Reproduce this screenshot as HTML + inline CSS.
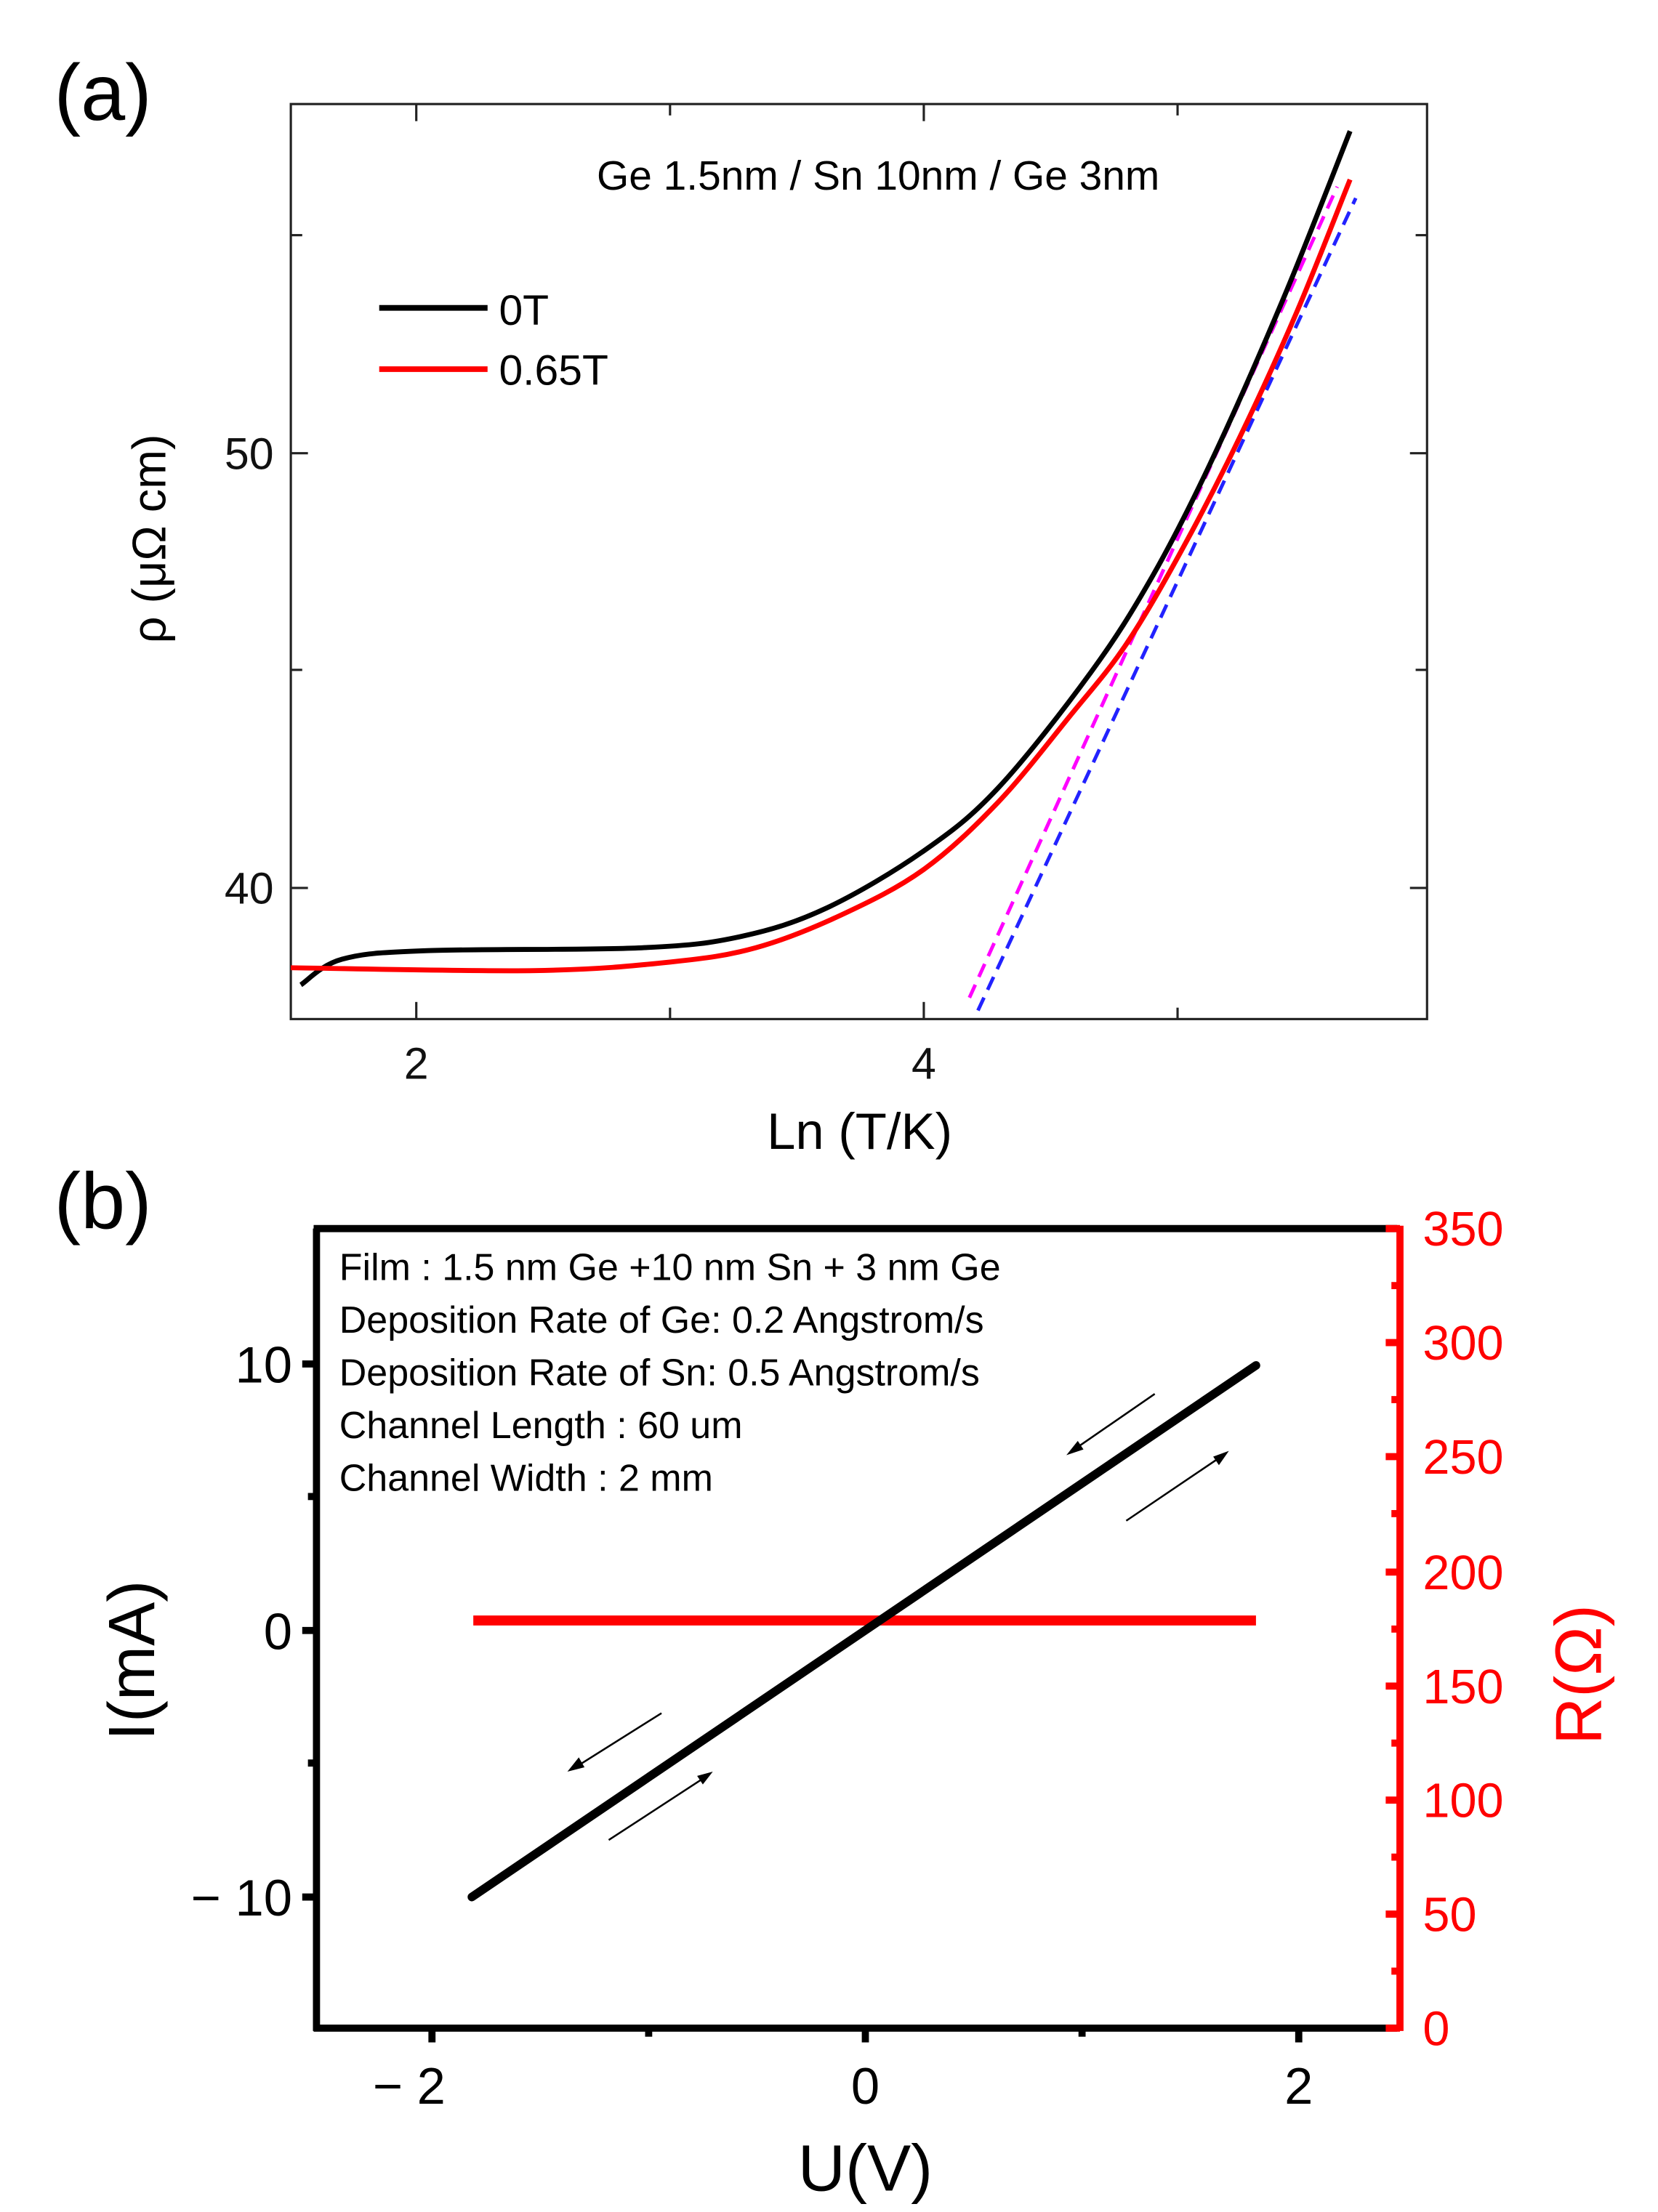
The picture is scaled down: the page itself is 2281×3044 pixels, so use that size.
<!DOCTYPE html>
<html><head><style>html,body{margin:0;padding:0;background:#fff}svg{display:block}</style></head>
<body>
<svg width="2281" height="3044" viewBox="0 0 1163 1552" preserveAspectRatio="none" xmlns="http://www.w3.org/2000/svg" font-family="Liberation Sans, sans-serif">
<rect width="1163" height="1552" fill="#fff"/>
<!-- Panel a -->
<text x="38" y="84" font-size="56">(a)</text>
<rect x="204" y="73" width="797" height="642" fill="none" stroke="#222" stroke-width="1.6"/>
<g stroke="#222" stroke-width="1.6">
<line x1="292" y1="715" x2="292" y2="703"/><line x1="470" y1="715" x2="470" y2="707"/><line x1="648" y1="715" x2="648" y2="703"/><line x1="826" y1="715" x2="826" y2="707"/>
<line x1="292" y1="73" x2="292" y2="85"/><line x1="470" y1="73" x2="470" y2="81"/><line x1="648" y1="73" x2="648" y2="85"/><line x1="826" y1="73" x2="826" y2="81"/>
<line x1="204" y1="318" x2="216" y2="318"/><line x1="204" y1="623" x2="216" y2="623"/><line x1="204" y1="470" x2="212" y2="470"/><line x1="204" y1="165" x2="212" y2="165"/>
<line x1="1001" y1="318" x2="989" y2="318"/><line x1="1001" y1="623" x2="989" y2="623"/><line x1="1001" y1="470" x2="993" y2="470"/><line x1="1001" y1="165" x2="993" y2="165"/>
</g>
<g font-size="31" fill="#111">
<text x="192" y="329" text-anchor="end">50</text>
<text x="192" y="634" text-anchor="end">40</text>
<text x="292" y="757" text-anchor="middle">2</text>
<text x="648" y="757" text-anchor="middle">4</text>
</g>
<text x="603" y="806" font-size="36" text-anchor="middle">Ln (T/K)</text>
<text transform="translate(116,378) rotate(-90)" font-size="33" text-anchor="middle">ρ (μΩ cm)</text>
<text x="616" y="133" font-size="29" text-anchor="middle">Ge 1.5nm / Sn 10nm / Ge 3nm</text>
<line x1="266" y1="216" x2="342" y2="216" stroke="#000" stroke-width="4"/>
<line x1="266" y1="259" x2="342" y2="259" stroke="#f00" stroke-width="4"/>
<text x="350" y="228" font-size="30">0T</text>
<text x="350" y="270" font-size="30">0.65T</text>
<line x1="680" y1="700" x2="938" y2="131" stroke="#f0f" stroke-width="2.5" stroke-dasharray="10,6"/>
<line x1="686" y1="709" x2="951" y2="139" stroke="#22f" stroke-width="2.5" stroke-dasharray="10,6"/>
<path id="cb" d="" fill="none" stroke="#000" stroke-width="3.5"/>
<path id="cr" d="" fill="none" stroke="#f00" stroke-width="3.5"/>
<!-- Panel b -->
<text x="38" y="862" font-size="56">(b)</text>
<g stroke="#000" stroke-width="5" fill="none">
<line x1="220" y1="862" x2="980" y2="862"/><line x1="222" y1="862" x2="222" y2="1425"/><line x1="220" y1="1423" x2="980" y2="1423"/>
<line x1="222" y1="957" x2="212" y2="957"/><line x1="222" y1="1144" x2="212" y2="1144"/><line x1="222" y1="1331" x2="212" y2="1331"/>
<line x1="222" y1="1050" x2="216" y2="1050"/><line x1="222" y1="1237" x2="216" y2="1237"/>
<line x1="303" y1="1423" x2="303" y2="1433"/><line x1="607" y1="1423" x2="607" y2="1433"/><line x1="911" y1="1423" x2="911" y2="1433"/>
<line x1="455" y1="1423" x2="455" y2="1429"/><line x1="759" y1="1423" x2="759" y2="1429"/>
</g>
<g stroke="#f00" stroke-width="5">
<line x1="982" y1="860" x2="982" y2="1425"/>
<line x1="982" y1="862" x2="972" y2="862"/><line x1="982" y1="942" x2="972" y2="942"/><line x1="982" y1="1022" x2="972" y2="1022"/><line x1="982" y1="1103" x2="972" y2="1103"/><line x1="982" y1="1183" x2="972" y2="1183"/><line x1="982" y1="1263" x2="972" y2="1263"/><line x1="982" y1="1343" x2="972" y2="1343"/><line x1="982" y1="1423" x2="972" y2="1423"/>
<line x1="982" y1="902" x2="976" y2="902"/><line x1="982" y1="982" x2="976" y2="982"/><line x1="982" y1="1062" x2="976" y2="1062"/><line x1="982" y1="1143" x2="976" y2="1143"/><line x1="982" y1="1223" x2="976" y2="1223"/><line x1="982" y1="1303" x2="976" y2="1303"/><line x1="982" y1="1383" x2="976" y2="1383"/>
</g>
<g font-size="34" fill="#f00">
<text x="998" y="874">350</text><text x="998" y="954">300</text><text x="998" y="1034">250</text><text x="998" y="1115">200</text><text x="998" y="1195">150</text><text x="998" y="1275">100</text><text x="998" y="1355">50</text><text x="998" y="1435">0</text>
</g>
<g font-size="36" fill="#000">
<text x="205" y="970" text-anchor="end">10</text>
<text x="205" y="1157" text-anchor="end">0</text>
<text x="205" y="1344" text-anchor="end">− 10</text>
<text x="287" y="1476" text-anchor="middle">− 2</text>
<text x="607" y="1476" text-anchor="middle">0</text>
<text x="911" y="1476" text-anchor="middle">2</text>
</g>
<text x="607" y="1537" font-size="46" text-anchor="middle">U(V)</text>
<text transform="translate(108,1165) rotate(-90)" font-size="46" text-anchor="middle">I(mA)</text>
<text transform="translate(1123,1175) rotate(-90)" font-size="46" text-anchor="middle" fill="#f00">R(Ω)</text>
<g font-size="26.5" fill="#000">
<text x="238" y="898">Film : 1.5 nm Ge +10 nm Sn + 3 nm Ge</text>
<text x="238" y="935">Deposition Rate of Ge: 0.2 Angstrom/s</text>
<text x="238" y="972">Deposition Rate of Sn: 0.5 Angstrom/s</text>
<text x="238" y="1009">Channel Length : 60 um</text>
<text x="238" y="1046">Channel Width : 2 mm</text>
</g>
<line x1="332" y1="1137" x2="881" y2="1137" stroke="#f00" stroke-width="7"/>
<line x1="331" y1="1331" x2="881" y2="958" stroke="#000" stroke-width="6" stroke-linecap="round"/>
<g stroke="#000" stroke-width="1.3">
<line x1="810" y1="978" x2="752" y2="1018"/><line x1="790" y1="1067" x2="858" y2="1021"/>
<line x1="464" y1="1202" x2="402" y2="1241"/><line x1="427" y1="1291" x2="496" y2="1246"/>
</g>
<g fill="#000">
<polygon points="748,1021 756,1011 760,1017"/>
<polygon points="862,1018 851,1022 855,1028"/>
<polygon points="398,1243 406,1233 410,1240"/>
<polygon points="500,1243 489,1246 493,1252"/>
</g>
</svg>
<script>
function cr(p){var d="M"+p[0][0]+","+p[0][1];for(var i=0;i<p.length-1;i++){var a=p[i-1]||p[i],b=p[i],c=p[i+1],e=p[i+2]||c;
d+=" C"+(b[0]+(c[0]-a[0])/6).toFixed(1)+","+(b[1]+(c[1]-a[1])/6).toFixed(1)+" "+(c[0]-(e[0]-b[0])/6).toFixed(1)+","+(c[1]-(e[1]-b[1])/6).toFixed(1)+" "+c[0]+","+c[1];}return d;}
document.getElementById("cb").setAttribute("d",cr([[211,691],[240,673],[300,667],[450,665],[520,657],[580,637],[648,597],[700,553],[765,472],[808,405],[850,323],[900,210],[947,92]]));
document.getElementById("cr").setAttribute("d",cr([[204,679],[375,681],[470,675],[530,665],[590,642],[648,610],[700,563],[750,503],[790,452],[830,384],[870,306],[910,218],[947,126]]));
</script>
</body></html>
